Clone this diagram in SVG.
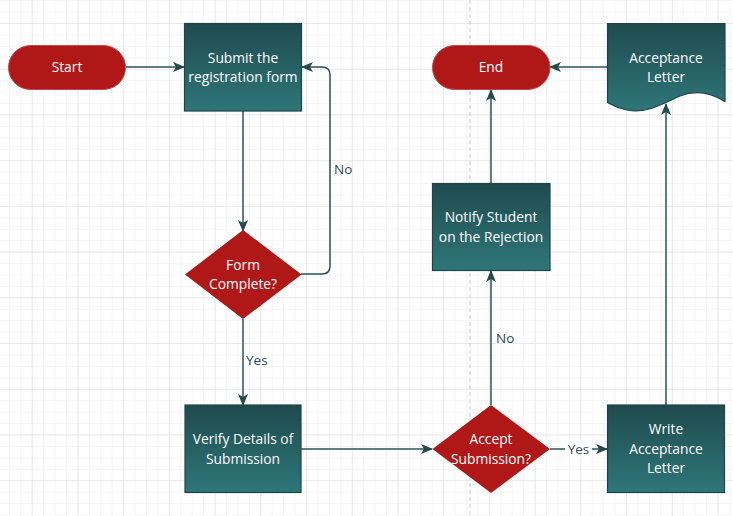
<svg xmlns="http://www.w3.org/2000/svg" width="733" height="516" viewBox="0 0 733 516">
<defs>
  <pattern id="gMinor" x="8.86" y="0.17" width="11.43" height="11.43" patternUnits="userSpaceOnUse">
    <path d="M0 0 V11.43 M0 0 H11.43" fill="none" stroke="#ececec" stroke-width="1"/>
  </pattern>
  <pattern id="gMajor" x="31.7" y="23" width="45.72" height="45.72" patternUnits="userSpaceOnUse">
    <path d="M0 0 V45.72 M0 0 H45.72" fill="none" stroke="#dedede" stroke-width="1"/>
  </pattern>
  <linearGradient id="teal" x1="0" y1="0" x2="0" y2="1">
    <stop offset="0" stop-color="#1f4b4e"/>
    <stop offset="1" stop-color="#2e7679"/>
  </linearGradient>
  <marker id="arr" viewBox="0 0 12 10" refX="11" refY="5" markerWidth="12" markerHeight="10" markerUnits="userSpaceOnUse" orient="auto">
    <path d="M0 0 L12 5 L0 10 L3 5 Z" fill="#234a4f"/>
  </marker>
  <style>
    .term { fill: #b01818; stroke: #c44a4a; stroke-width: 1; }
    .proc { fill: url(#teal); stroke: #1d4447; stroke-width: 1.2; }
    .dec { fill: #b01818; }
    .t { font-family: "Open Sans", "Noto Sans", sans-serif; font-size: 13.8px; fill: #ffffff; text-anchor: middle; }
    .lbl { font-family: "Open Sans", "Noto Sans", sans-serif; font-size: 13.5px; fill: #2b4a5a; }
    .c { fill: none; stroke: #2b5257; stroke-width: 1.5; }
  </style>
</defs>
<rect width="733" height="516" fill="#ffffff"/>
<rect width="733" height="516" fill="url(#gMinor)"/>
<rect width="733" height="516" fill="url(#gMajor)"/>
<line x1="470" y1="0" x2="470" y2="516" stroke="#c8c8c8" stroke-width="1" stroke-dasharray="4 3"/>

<g id="connectors">
  <path class="c" d="M126 67 H184" marker-end="url(#arr)"/>
  <path class="c" d="M243 111 V231" marker-end="url(#arr)"/>
  <path class="c" d="M301 274 H322 Q330 274 330 266 V75 Q330 67 322 67 H302" marker-end="url(#arr)"/>
  <path class="c" d="M243 319 V405" marker-end="url(#arr)"/>
  <path class="c" d="M301 449 H432" marker-end="url(#arr)"/>
  <path class="c" d="M550 449 H607" marker-end="url(#arr)"/>
  <path class="c" d="M491 405 V271" marker-end="url(#arr)"/>
  <path class="c" d="M491 183 V90" marker-end="url(#arr)"/>
  <path class="c" d="M666 405 V104" marker-end="url(#arr)"/>
  <path class="c" d="M607 67 H550" marker-end="url(#arr)"/>
  <text class="lbl" x="334" y="174">No</text>
  <text class="lbl" x="246" y="365">Yes</text>
  <text class="lbl" x="496" y="343">No</text>
  <rect x="565" y="440" width="27" height="18" fill="#ffffff"/>
  <text class="lbl" x="578.5" y="454" text-anchor="middle">Yes</text>
</g>

<g id="start">
  <rect class="term" x="8.5" y="45.5" width="117" height="44" rx="22" ry="22"/>
  <text class="t" x="67" y="72">Start</text>
</g>
<g id="submit">
  <rect class="proc" x="184.5" y="23.5" width="117" height="87.5"/>
  <text class="t" x="243" y="63">Submit the</text>
  <text class="t" x="243" y="82">registration form</text>
</g>
<g id="formComplete">
  <polygon class="dec" points="243,230 301.5,274.5 243,319 185,274.5"/>
  <text class="t" x="243" y="270">Form</text>
  <text class="t" x="243" y="289">Complete?</text>
</g>
<g id="verify">
  <rect class="proc" x="185" y="405" width="116" height="87.5"/>
  <text class="t" x="243" y="444">Verify Details of</text>
  <text class="t" x="243" y="464">Submission</text>
</g>
<g id="accept">
  <polygon class="dec" points="491,405 550,449 491,493 432.5,449"/>
  <text class="t" x="491" y="444">Accept</text>
  <text class="t" x="491" y="464">Submission?</text>
</g>
<g id="write">
  <rect class="proc" x="607.5" y="405" width="117" height="87.5"/>
  <text class="t" x="666" y="434">Write</text>
  <text class="t" x="666" y="454">Acceptance</text>
  <text class="t" x="666" y="473">Letter</text>
</g>
<g id="letter">
  <path class="proc" d="M607.5 23.5 H725 V101.5 C710 92 695 90 680 96 C660 105 645 114 627 110 C617 108 612 105 607.5 102.5 Z"/>
  <text class="t" x="666" y="63">Acceptance</text>
  <text class="t" x="666" y="82">Letter</text>
</g>
<g id="end">
  <rect class="term" x="432.5" y="45.5" width="117.5" height="44" rx="22" ry="22"/>
  <text class="t" x="491" y="72">End</text>
</g>
<g id="notify">
  <rect class="proc" x="432.5" y="183.5" width="117.5" height="87"/>
  <text class="t" x="491" y="222">Notify Student</text>
  <text class="t" x="491" y="242">on the Rejection</text>
</g>
</svg>
